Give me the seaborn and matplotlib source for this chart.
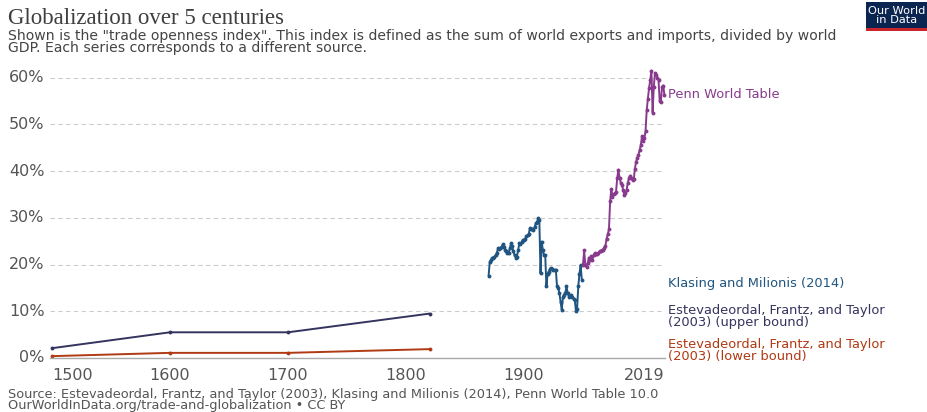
import numpy as np
import pandas as pd
import matplotlib
matplotlib.use("Agg")
import matplotlib.pyplot as plt
import matplotlib.patches as mpatches
import seaborn as sns

# Trade openness index (% of world GDP), by source
eft_years = [1500, 1600, 1700, 1820]
eft_upper = [2.1, 5.5, 5.5, 9.5]
eft_lower = [0.4, 1.1, 1.1, 1.9]

klasing_years = list(range(1870, 1950))
klasing_values = [
    17.6, 20.6, 21.0, 21.3, 21.5, 21.7, 22.0, 22.5, 23.5, 23.3,
    23.6, 23.8, 24.3, 23.8, 23.0, 22.8, 22.4, 22.4, 23.5, 24.5,
    24.0, 22.8, 22.0, 21.5, 21.7, 23.0, 24.5, 24.3, 24.8, 25.3,
    25.2, 25.5, 26.0, 26.3, 26.5, 27.8, 27.6, 27.5, 27.4, 28.0,
    28.8, 29.0, 29.9, 29.5, 18.1, 24.9, 23.0, 22.0, 22.0, 15.3,
    18.0, 18.5, 19.0, 19.2, 19.0, 18.8, 18.9, 18.8, 15.3, 15.0,
    13.9, 12.0, 10.3, 13.1, 13.5, 13.9, 15.3, 14.0, 13.1, 13.3,
    13.5, 13.0, 12.6, 12.5, 10.1, 10.5, 15.3, 18.0, 19.9, 16.7,
]

penn_years = list(range(1950, 2020))
penn_values = [
    20.0, 23.0, 19.8, 19.5, 20.3, 21.5, 21.0, 21.8, 21.0, 22.0,
    22.4, 22.2, 22.3, 22.5, 22.8, 22.8, 23.0, 23.0, 23.6, 24.0,
    25.5, 26.5, 27.5, 33.5, 36.2, 34.5, 35.0, 35.3, 35.5, 38.5,
    40.3, 38.5, 37.5, 37.0, 36.0, 34.8, 35.2, 36.0, 37.5, 38.5,
    39.0, 38.5, 38.0, 38.2, 40.5, 42.0, 42.8, 43.5, 44.5, 45.5,
    47.5, 46.5, 47.0, 48.5, 53.0, 55.5, 57.8, 59.5, 61.5, 52.5,
    58.0, 61.0, 60.5, 60.0, 59.5, 55.0, 54.8, 58.0, 58.3, 56.3,
]

series_names = [
    "Estevadeordal, Frantz, and Taylor (2003) (upper bound)",
    "Estevadeordal, Frantz, and Taylor (2003) (lower bound)",
    "Klasing and Milionis (2014)",
    "Penn World Table",
]
series_colors = ["#34345f", "#b03a14", "#1f5580", "#883a8c"]

x_ticks = [1500, 1600, 1700, 1800, 1900, 2019]
y_ticks = [0, 10, 20, 30, 40, 50, 60]

df = pd.concat([
    pd.DataFrame({"year": eft_years, "openness": eft_upper, "source": series_names[0]}),
    pd.DataFrame({"year": eft_years, "openness": eft_lower, "source": series_names[1]}),
    pd.DataFrame({"year": klasing_years, "openness": klasing_values, "source": series_names[2]}),
    pd.DataFrame({"year": penn_years, "openness": penn_values, "source": series_names[3]}),
], ignore_index=True)

sns.set_theme(style="white")
plt.rcParams["font.family"] = ["DejaVu Sans"]

W, H = 928, 412
fig = plt.figure(figsize=(W / 100, H / 100), dpi=100)
ax_left, ax_right, ax_bottom, ax_top = 50, 665, 358, 64
ax = fig.add_axes([ax_left / W, 1 - ax_bottom / H, (ax_right - ax_left) / W, (ax_bottom - ax_top) / H])

sns.lineplot(
    data=df, x="year", y="openness", hue="source", hue_order=series_names,
    palette=dict(zip(series_names, series_colors)), marker="o", markersize=2.8,
    markeredgewidth=0, linewidth=1.4, legend=False, ax=ax, clip_on=False,
)

ax.set_xlim(1498.3, 2019.5)
ax.set_ylim(0, 62.9)
ax.set_xticks(x_ticks)
ax.set_xticklabels([str(t) for t in x_ticks])
ax.set_yticks(y_ticks)
ax.set_yticklabels([f"{v}%" for v in y_ticks])
ax.set_xlabel("")
ax.set_ylabel("")
ax.grid(axis="y", color="#cccccc", linestyle=(0, (4, 3)), linewidth=0.8)
ax.grid(axis="x", visible=False)
for side in ["top", "right", "left"]:
    ax.spines[side].set_visible(False)
ax.spines["bottom"].set_color("#aaaaaa")
ax.spines["bottom"].set_linewidth(1.0)
ax.tick_params(axis="x", length=4, color="#aaaaaa", labelsize=11.5, labelcolor="#555555", pad=3)
ax.tick_params(axis="y", length=0, labelsize=11.5, labelcolor="#555555", pad=4)
for lbl in ax.get_yticklabels():
    lbl.set_verticalalignment("center")
xlabels = ax.get_xticklabels()
xlabels[0].set_horizontalalignment("left")
xlabels[-1].set_horizontalalignment("right")

# End-of-line labels
label_specs = [
    ("Penn World Table", 56.3, series_colors[3]),
    ("Klasing and Milionis (2014)", 16.0, series_colors[2]),
    ("Estevadeordal, Frantz, and Taylor\n(2003) (upper bound)", 8.8, series_colors[0]),
    ("Estevadeordal, Frantz, and Taylor\n(2003) (lower bound)", 1.5, series_colors[1]),
]
for text, yv, col in label_specs:
    ax.annotate(text, xy=(2019.5, yv), xytext=(2, 0), textcoords="offset points",
                ha="left", va="center", fontsize=9.4, color=col, linespacing=0.9,
                annotation_clip=False)

# Header
fig.text(8 / W, 1 - 19 / H, "Globalization over 5 centuries", family="Liberation Serif",
         fontsize=16.5, color="#3f3f3f", va="center", ha="left")
fig.text(8 / W, 1 - 42 / H,
         "Shown is the \"trade openness index\". This index is defined as the sum of world exports and imports, divided by world\n"
         "GDP. Each series corresponds to a different source.",
         fontsize=10.1, color="#444444", va="center", ha="left", linespacing=0.88)

# Footer
fig.text(8 / W, 1 - 400 / H,
         "Source: Estevadeordal, Frantz, and Taylor (2003), Klasing and Milionis (2014), Penn World Table 10.0\n"
         "OurWorldInData.org/trade-and-globalization \u2022 CC BY",
         fontsize=9.3, color="#555555", va="center", ha="left", linespacing=0.85)

# Logo
logo = mpatches.Rectangle((866 / W, 1 - 29 / H), 70 / W, 27 / H, transform=fig.transFigure,
                          facecolor="#0b2551", edgecolor="none", clip_on=False)
fig.patches.append(logo)
stripe = mpatches.Rectangle((866 / W, 1 - 31 / H), 70 / W, 3 / H, transform=fig.transFigure,
                            facecolor="#c8242b", edgecolor="none", clip_on=False)
fig.patches.append(stripe)
fig.text(897 / W, 1 - 15.5 / H, "Our World\nin Data", fontsize=8.2, color="white",
         ha="center", va="center", linespacing=0.85)

fig.savefig("out.png", dpi=100)
